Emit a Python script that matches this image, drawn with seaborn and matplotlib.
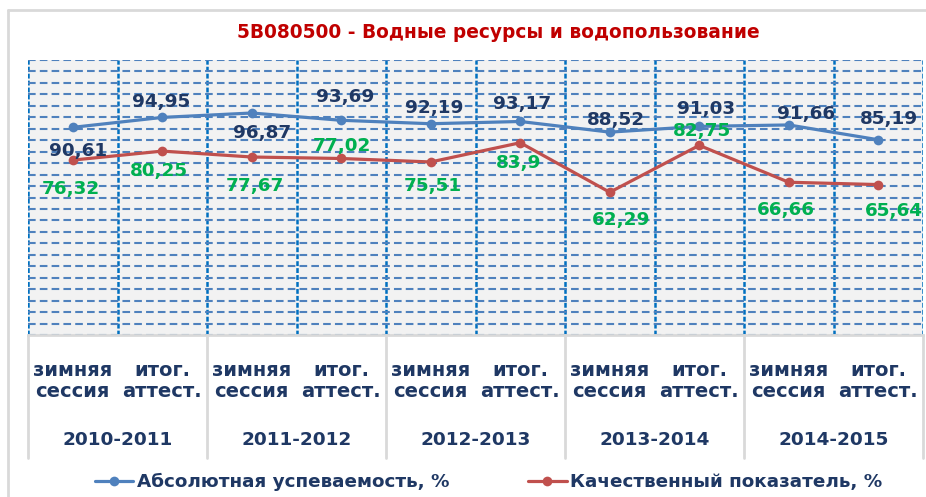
import matplotlib
matplotlib.use("Agg")
import matplotlib.pyplot as plt
import seaborn as sns
import numpy as np
import pandas as pd
from matplotlib.lines import Line2D
from matplotlib.transforms import blended_transform_factory

sns.set_theme(style="white")
plt.rcParams["font.family"] = ["DejaVu Sans"]
plt.rcParams["lines.scale_dashes"] = False

# data
title = "5В080500 - Водные ресурсы и водопользование"
years = ["2010-2011", "2011-2012", "2012-2013", "2013-2014", "2014-2015"]
sessions = ["зимняя\nсессия", "итог.\nаттест."] * 5
abs_vals = [90.61, 94.95, 96.87, 93.69, 92.19, 93.17, 88.52, 91.03, 91.66, 85.19]
qual_vals = [76.32, 80.25, 77.67, 77.02, 75.51, 83.9, 62.29, 82.75, 66.66, 65.64]
abs_name = "Абсолютная успеваемость, %"
qual_name = "Качественный показатель, %"

# label offsets in pixels (dx, dy downwards)
abs_off = [(5, 24), (-1, -15), (10, 20), (4, -23), (3, -16), (2, -17), (6, -12), (7, -17), (17, -11), (11, -21)]
qual_off = [(-2, 29), (-3, 20), (3, 29), (1, -12), (2, 24), (-2, 20), (11, 28), (3, -14), (-3, 28), (16, 26)]

idx = np.arange(len(abs_vals))
df = pd.DataFrame({"x": np.concatenate([idx, idx]),
                   "val": abs_vals + qual_vals,
                   "series": [abs_name] * len(idx) + [qual_name] * len(idx)})

W, H = 926, 497
fig = plt.figure(figsize=(W / 100, H / 100), dpi=100)
ax = fig.add_axes([28 / W, 1 - 335 / H, (923 - 28) / W, 275 / H])
ax.set_facecolor("#f2f2f2")

sns.lineplot(data=df, x="x", y="val", hue="series", ax=ax,
             palette=["#4f81bd", "#c0504d"], lw=2.3, marker="o",
             markersize=7, markeredgewidth=0)

ax.set_xlim(-0.5, 9.5)
ax.set_ylim(0, 120)
ax.set_yticks(np.arange(0, 121, 5))
ax.set_xticks(np.arange(-0.5, 10, 1))
ax.tick_params(length=0, labelbottom=False, labelleft=False)
ax.set_xlabel("")
ax.set_ylabel("")
ax.grid(axis="y", color="#4f81bd", lw=1.5, ls=(0, (5.5, 3)))
ax.grid(axis="x", color="#0070c0", lw=1.8, ls=(0, (3.5, 1.5)))
ax.set_axisbelow(True)
for s in ["top", "left", "right"]:
    ax.spines[s].set_visible(False)
ax.spines["bottom"].set_color("#d9d9d9")
ax.spines["bottom"].set_linewidth(2)

# value labels
for i, v in enumerate(abs_vals):
    dx, dy = abs_off[i]
    ax.annotate(f"{v:g}".replace(".", ","), (i, v), xytext=(dx, -dy),
                textcoords="offset pixels", ha="center", va="center",
                fontsize=13.2, fontweight="bold", color="#1f3864")
for i, v in enumerate(qual_vals):
    dx, dy = qual_off[i]
    ax.annotate(f"{v:g}".replace(".", ","), (i, v), xytext=(dx, -dy),
                textcoords="offset pixels", ha="center", va="center",
                fontsize=13.2, fontweight="bold", color="#00b050")

# two-level category axis
trans = blended_transform_factory(ax.transData, ax.transAxes)
for xb in np.arange(-0.5, 10, 2):
    ax.plot([xb, xb], [0, -0.447], transform=trans, color="#d9d9d9",
            lw=2, clip_on=False)
for i, s in enumerate(sessions):
    ax.text(i, -0.167, s, transform=trans, ha="center", va="center",
            fontsize=14, fontweight="bold", color="#1f3864", linespacing=1.1)
for j, y in enumerate(years):
    ax.text(2 * j + 0.5, -0.382, y, transform=trans, ha="center", va="center",
            fontsize=13.3, fontweight="bold", color="#1f3864")

# outer chart frame
fig.add_artist(Line2D([8 / W, 8 / W], [0, 1 - 10 / H], transform=fig.transFigure,
                      color="#d9d9d9", lw=2))
fig.add_artist(Line2D([8 / W, 1], [1 - 10 / H, 1 - 10 / H], transform=fig.transFigure,
                      color="#d9d9d9", lw=2))

fig.text(0.538, 1 - 33 / H, title, ha="center", va="center",
         fontsize=13.4, fontweight="bold", color="#c00000")

handles, labels = ax.get_legend_handles_labels()
ax.get_legend().remove()
fig.legend(handles, labels, loc="center", bbox_to_anchor=(0.5275, 1 - 482 / H),
           ncol=2, frameon=False, prop=dict(weight="bold", size=13.2),
           handlelength=2.1, handletextpad=0.2, columnspacing=4.3,
           labelcolor="#1f3864")

fig.savefig("out.png", dpi=100)
